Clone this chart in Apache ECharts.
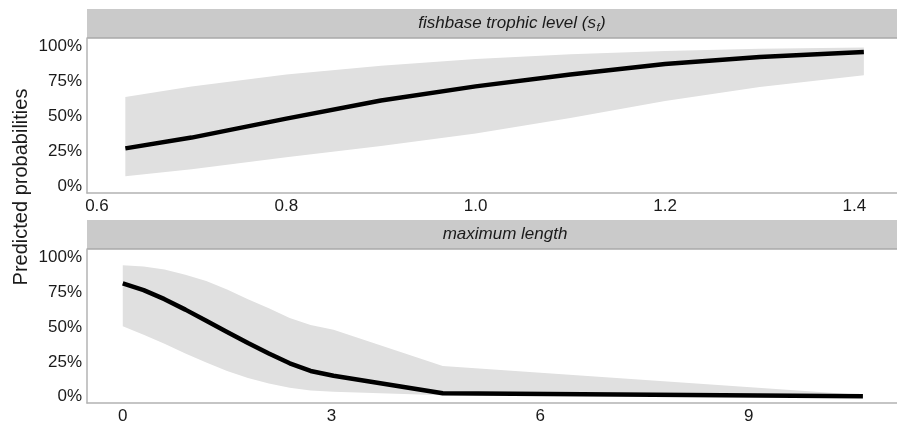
<!DOCTYPE html>
<html>
<head>
<meta charset="utf-8">
<script src="https://cdn.jsdelivr.net/npm/echarts@6/dist/echarts.min.js"></script>
<style>
  html, body { margin: 0; padding: 0; background: #ffffff; }
  #chart { width: 897px; height: 425px; }
</style>
</head>
<body>
<div id="chart"></div>
<script>
// ---- data ----
var topX    = [0.63, 0.70, 0.80, 0.90, 1.00, 1.10, 1.20, 1.30, 1.41];
var topFit  = [0.273, 0.350, 0.485, 0.615, 0.715, 0.800, 0.875, 0.925, 0.960];
var topLow  = [0.075, 0.125, 0.210, 0.290, 0.380, 0.490, 0.610, 0.710, 0.795];
var topHigh = [0.640, 0.715, 0.800, 0.862, 0.910, 0.945, 0.968, 0.983, 0.993];

var botX    = [0, 0.3, 0.6, 0.9, 1.2, 1.5, 1.8, 2.1, 2.4, 2.7, 3.03, 4.6, 10.64];
var botFit  = [0.813, 0.765, 0.700, 0.625, 0.545, 0.465, 0.385, 0.310, 0.240, 0.185, 0.150, 0.025, 0.004];
var botLow  = [0.506, 0.445, 0.380, 0.310, 0.245, 0.185, 0.135, 0.095, 0.065, 0.045, 0.036, 0.010, 0.000];
var botHigh = [0.943, 0.935, 0.913, 0.875, 0.830, 0.770, 0.700, 0.635, 0.565, 0.515, 0.480, 0.220, 0.012];

var topTicks = [0.6, 0.8, 1.0, 1.2, 1.4];
var botTicks = [0, 3, 6, 9];
var yTicks   = [0, 0.25, 0.5, 0.75, 1];

var topTitle = 'fishbase trophic level (s';
var topTitleSub = 'f';
var topTitleEnd = ')';
var botTitle = 'maximum length';
var yTitle = 'Predicted probabilities';

// ---- chart ----
var FONT = '"Liberation Sans", Arial, sans-serif';
var chart = echarts.init(document.getElementById('chart'), null, { renderer: 'canvas' });

function measure(text, font) {
  var c = document.createElement('canvas').getContext('2d');
  c.font = font;
  return c.measureText(text).width;
}

function bandSeries(xs, lo, hi, idx) {
  return {
    type: 'custom',
    xAxisIndex: idx, yAxisIndex: idx,
    z: 1,
    silent: true,
    data: [[xs[0], lo[0]]],
    renderItem: function (params, api) {
      var pts = [];
      for (var i = 0; i < xs.length; i++) pts.push(api.coord([xs[i], hi[i]]));
      for (var j = xs.length - 1; j >= 0; j--) pts.push(api.coord([xs[j], lo[j]]));
      return { type: 'polygon', shape: { points: pts }, style: { fill: '#e0e0e0', stroke: null } };
    }
  };
}
function lineSeries(xs, ys, idx) {
  return {
    type: 'line',
    xAxisIndex: idx, yAxisIndex: idx,
    z: 2,
    showSymbol: false,
    silent: true,
    data: xs.map(function (x, i) { return [x, ys[i]]; }),
    lineStyle: { color: '#000000', width: 4.5, cap: 'butt', join: 'round' }
  };
}
var axisLine = { show: true, onZero: false, lineStyle: { color: '#b3b3b3', width: 1.5 } };
var labelStyle = { color: '#1a1a1a', fontSize: 17, fontFamily: FONT };

function xAxisDef(idx, min, max, ticks, fmt) {
  return {
    type: 'value', gridIndex: idx, min: min, max: max,
    axisLine: axisLine, axisTick: { show: false }, splitLine: { show: false },
    axisLabel: Object.assign({ margin: 5, customValues: ticks, formatter: fmt }, labelStyle)
  };
}
function yAxisDef(idx) {
  return {
    type: 'value', gridIndex: idx, min: -0.045, max: 1.06,
    axisLine: axisLine, axisTick: { show: false }, splitLine: { show: false },
    axisLabel: Object.assign({ margin: 5, customValues: yTicks, formatter: function (v) { return Math.round(v * 100) + '%'; } }, labelStyle)
  };
}

// strip title pieces (top), measured so that the subscript sits right after "s"
var mainFont = 'italic 17px "Liberation Sans"';
var subFont = 'italic 11px "Liberation Sans"';
var w1 = measure(topTitle, mainFont), w2 = measure(topTitleSub, subFont), w3 = measure(topTitleEnd, mainFont);
var totalW = w1 + w2 + w3 + 1;
var startX = 512 - totalW / 2;
var stripTextColor = '#1a1a1a';

function piece(x, y, text, font) {
  return {
    type: 'text', x: x, y: y, z: 5,
    style: { text: text, font: font, fill: stripTextColor, align: 'left', verticalAlign: 'middle', textAlign: 'left', textVerticalAlign: 'middle' }
  };
}

var option = {
  animation: false,
  backgroundColor: '#ffffff',
  textStyle: { fontFamily: FONT },
  grid: [
    { left: 87, top: 38, width: 815, height: 155 },
    { left: 87, top: 249, width: 815, height: 155 }
  ],
  xAxis: [
    xAxisDef(0, 0.5895, 1.445, topTicks, function (v) { return v.toFixed(1); }),
    xAxisDef(1, -0.514, 11.13, botTicks, function (v) { return String(Math.round(v)); })
  ],
  yAxis: [yAxisDef(0), yAxisDef(1)],
  series: [
    bandSeries(topX, topLow, topHigh, 0),
    lineSeries(topX, topFit, 0),
    bandSeries(botX, botLow, botHigh, 1),
    lineSeries(botX, botFit, 1)
  ],
  graphic: [
    { type: 'rect', shape: { x: 87, y: 9, width: 815, height: 29 }, style: { fill: '#cacaca' }, z: 0 },
    { type: 'line', shape: { x1: 87, y1: 38, x2: 902, y2: 38 }, style: { stroke: '#a8a8a8', lineWidth: 1.5 }, z: 0 },
    { type: 'rect', shape: { x: 87, y: 220, width: 815, height: 29 }, style: { fill: '#cacaca' }, z: 0 },
    { type: 'line', shape: { x1: 87, y1: 249, x2: 902, y2: 249 }, style: { stroke: '#a8a8a8', lineWidth: 1.5 }, z: 0 },
    piece(startX, 23.5, topTitle, mainFont),
    piece(startX + w1 + 0.5, 28, topTitleSub, subFont),
    piece(startX + w1 + w2 + 1, 23.5, topTitleEnd, mainFont),
    {
      type: 'text', x: 505, y: 234.5, z: 5,
      style: {
        text: botTitle, fontSize: 17, fontStyle: 'italic', fontFamily: FONT, fill: stripTextColor,
        align: 'center', verticalAlign: 'middle', textAlign: 'center', textVerticalAlign: 'middle'
      }
    },
    {
      type: 'text', x: 21, y: 187, rotation: Math.PI / 2, z: 5,
      style: {
        text: yTitle, fontSize: 20, fontFamily: FONT, fill: '#1a1a1a',
        align: 'center', verticalAlign: 'middle', textAlign: 'center', textVerticalAlign: 'middle'
      }
    }
  ]
};
chart.setOption(option);
</script>
</body>
</html>
